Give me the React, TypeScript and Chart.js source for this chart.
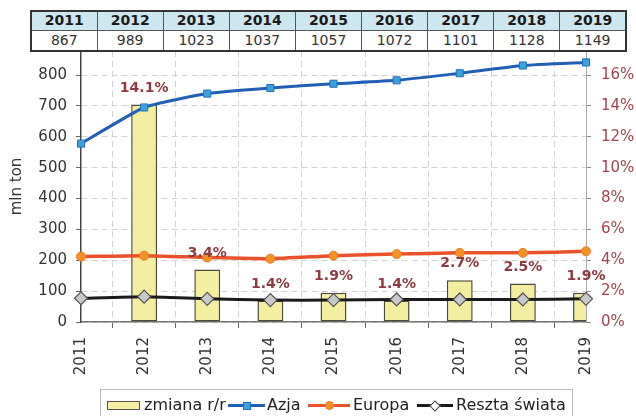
import React, { useEffect, useRef } from 'react';
import { Chart, registerables } from 'chart.js';

Chart.register(...registerables);

const years = ['2011', '2012', '2013', '2014', '2015', '2016', '2017', '2018', '2019'];
const totals = [867, 989, 1023, 1037, 1057, 1072, 1101, 1128, 1149];
const change: (number | null)[] = [null, 14.1, 3.4, 1.4, 1.9, 1.4, 2.7, 2.5, 1.9];
const azja = [578, 695, 740, 758, 772, 783, 806, 831, 841];
const europa = [212, 215, 209, 205, 215, 220, 224, 224, 229];
const reszta = [77, 82, 75, 71, 71, 73, 73, 73, 75];
const leftTickStep = 100;
const rightTickStep = 2;

const FONT = "'DejaVu Sans', sans-serif";

const barLabelPlugin = {
  id: 'barLabels',
  afterDatasetsDraw(chart: any) {
    const ctx = chart.ctx;
    const meta = chart.getDatasetMeta(0);
    ctx.save();
    ctx.font = `bold 14px ${FONT}`;
    ctx.fillStyle = '#8e3a40';
    ctx.textAlign = 'center';
    ctx.textBaseline = 'middle';
    meta.data.forEach((el: any, i: number) => {
      const v = change[i];
      if (v === null || v === undefined) return;
      ctx.fillText(`${v.toFixed(1)}%`, el.x, el.y - 16.5);
    });
    ctx.restore();
  },
};

export default function App() {
  const ref = useRef<HTMLCanvasElement | null>(null);

  useEffect(() => {
    if (!ref.current) return;
    const gridColor = '#d2d2d2';
    const chart = new Chart(ref.current, {
      type: 'bar',
      data: {
        labels: years,
        datasets: [
          {
            type: 'bar',
            label: 'zmiana r/r',
            data: change,
            yAxisID: 'y2',
            backgroundColor: '#f4efa0',
            borderColor: '#4a4a3a',
            borderWidth: 1.5,
            borderSkipped: false,
            categoryPercentage: 1,
            barPercentage: 0.41,
            order: 10,
          } as any,
          {
            type: 'line',
            label: 'Azja',
            data: azja,
            yAxisID: 'y',
            borderColor: '#1f5fb5',
            borderWidth: 3,
            backgroundColor: '#3ba3d9',
            pointStyle: 'rect',
            pointRadius: 5,
            pointBorderColor: '#1f6fc0',
            pointBorderWidth: 1,
            pointBackgroundColor: '#3ba3d9',
            tension: 0.15,
            clip: false,
            order: 1,
          } as any,
          {
            type: 'line',
            label: 'Europa',
            data: europa,
            yAxisID: 'y',
            borderColor: '#e8532b',
            borderWidth: 3.5,
            pointStyle: 'circle',
            pointRadius: 4.5,
            pointBackgroundColor: '#f39325',
            pointBorderColor: '#ec7a2a',
            pointBorderWidth: 1,
            tension: 0.15,
            clip: false,
            order: 2,
          } as any,
          {
            type: 'line',
            label: 'Reszta świata',
            data: reszta,
            yAxisID: 'y',
            borderColor: '#1a1a1a',
            borderWidth: 3,
            pointStyle: 'rectRot',
            pointRadius: 6.5,
            pointBackgroundColor: '#c9c9c9',
            pointBorderColor: '#555',
            pointBorderWidth: 1.2,
            tension: 0.15,
            clip: false,
            order: 3,
          } as any,
        ],
      },
      options: {
        responsive: false,
        animation: false,
        devicePixelRatio: 1,
        layout: { padding: { top: 51, left: 0, right: 0, bottom: 39 } },
        plugins: {
          legend: { display: false },
          tooltip: { enabled: false },
          title: { display: false },
        },
        scales: {
          x: {
            offset: false,
            grid: {
              color: gridColor,
              lineWidth: 1,
              tickLength: 6,
              tickColor: '#666',
            },
            border: { color: '#777', width: 1.5, dash: [6, 4] },
            ticks: {
              minRotation: 90,
              maxRotation: 90,
              padding: 9,
              color: '#333',
              font: { family: FONT, size: 15 },
            },
            afterFit(scale: any) {
              scale.height = 55;
            },
          },
          y: {
            position: 'left',
            min: 0,
            max: 878,
            grid: {
              color: gridColor,
              lineWidth: 1,
              tickLength: 5,
              tickColor: '#666',
            },
            border: { color: '#444', width: 1.5, dash: [6, 4] },
            ticks: {
              stepSize: leftTickStep,
              includeBounds: false,
              padding: 9,
              color: '#333',
              font: { family: FONT, size: 15 },
            },
            title: {
              display: true,
              text: 'mln ton',
              color: '#333',
              font: { family: FONT, size: 15 },
              padding: { top: 8, bottom: 4 },
            },
            afterFit(scale: any) {
              scale.width = 81;
            },
          },
          y2: {
            position: 'right',
            min: 0,
            max: 17.56,
            grid: {
              drawOnChartArea: false,
              tickLength: 5,
              tickColor: '#888',
            },
            border: { color: '#aaa', width: 1 },
            ticks: {
              stepSize: rightTickStep,
              includeBounds: false,
              padding: 10,
              color: '#a3454d',
              font: { family: FONT, size: 15 },
              callback: (v: any) => `${v}%`,
            },
            afterFit(scale: any) {
              scale.width = 50;
            },
          },
        },
      } as any,
      plugins: [barLabelPlugin],
    });
    return () => chart.destroy();
  }, []);

  const cellBase: React.CSSProperties = {
    border: '1px solid #555',
    textAlign: 'center',
    padding: 0,
    fontFamily: FONT,
    fontSize: 14,
  };

  const textStyle = (left: number): React.CSSProperties => ({
    position: 'absolute',
    left,
    top: 397,
    fontFamily: FONT,
    fontSize: 16,
    lineHeight: '16px',
    color: '#222',
    whiteSpace: 'nowrap',
  });

  const lineStyle = (left: number, width: number, color: string): React.CSSProperties => ({
    position: 'absolute',
    left,
    top: 404,
    width,
    height: 3,
    background: color,
  });

  return (
    <div
      style={{
        position: 'fixed',
        left: 0,
        top: 0,
        width: 636,
        height: 416,
        background: '#fff',
        overflow: 'hidden',
      }}
    >
      <canvas ref={ref} width={636} height={416} style={{ position: 'absolute', left: 0, top: 0 }} />
      <table
        style={{
          position: 'absolute',
          left: 30,
          top: 10,
          width: 597,
          borderCollapse: 'collapse',
          tableLayout: 'fixed',
          border: '2px solid #333',
          background: '#fff',
        }}
      >
        <tbody>
          <tr style={{ height: 19 }}>
            {years.map((y) => (
              <td
                key={y}
                style={{ ...cellBase, background: '#cde7f0', fontWeight: 'bold', color: '#1a1a1a', lineHeight: '17px' }}
              >
                {y}
              </td>
            ))}
          </tr>
          <tr style={{ height: 21 }}>
            {totals.map((t, i) => (
              <td key={i} style={{ ...cellBase, color: '#333', lineHeight: '19px' }}>
                {t}
              </td>
            ))}
          </tr>
        </tbody>
      </table>
      <div
        style={{
          position: 'absolute',
          left: 100,
          top: 389,
          width: 473,
          height: 40,
          border: '1px solid #bdbdbd',
          boxSizing: 'border-box',
        }}
      />
      <div
        style={{
          position: 'absolute',
          left: 107,
          top: 401,
          width: 33,
          height: 9,
          background: '#f4efa0',
          border: '1px solid #555',
          boxSizing: 'border-box',
        }}
      />
      <div style={textStyle(144)}>zmiana r/r</div>
      <div style={lineStyle(228, 37, '#1f5fb5')} />
      <div
        style={{
          position: 'absolute',
          left: 243,
          top: 401.5,
          width: 8,
          height: 8,
          background: '#3ba3d9',
          border: '1px solid #1f6fc0',
          boxSizing: 'border-box',
        }}
      />
      <div style={textStyle(267)}>Azja</div>
      <div style={lineStyle(308, 42, '#e8532b')} />
      <div
        style={{
          position: 'absolute',
          left: 325,
          top: 401,
          width: 9,
          height: 9,
          borderRadius: '50%',
          background: '#f39325',
          border: '1px solid #ec7a2a',
          boxSizing: 'border-box',
        }}
      />
      <div style={textStyle(353)}>Europa</div>
      <div style={lineStyle(417, 36, '#1a1a1a')} />
      <div
        style={{
          position: 'absolute',
          left: 431,
          top: 401.5,
          width: 8,
          height: 8,
          background: '#fff',
          border: '1px solid #444',
          boxSizing: 'border-box',
          transform: 'rotate(45deg)',
        }}
      />
      <div style={textStyle(456)}>Reszta świata</div>
    </div>
  );
}
